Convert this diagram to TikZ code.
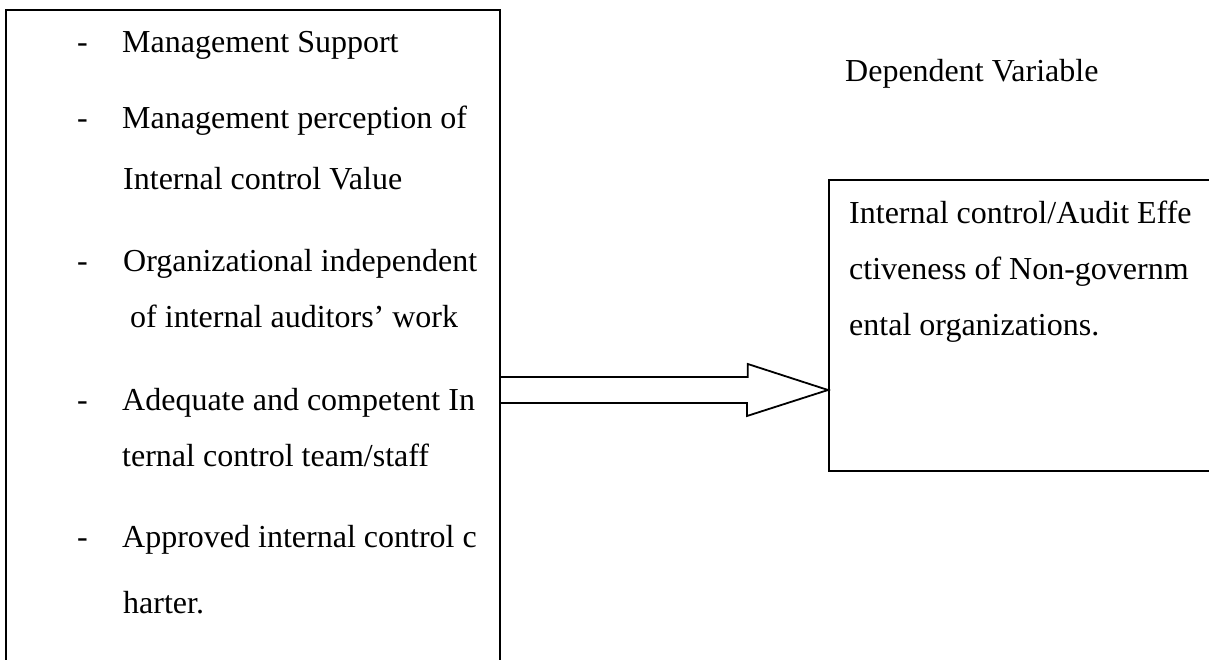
\documentclass[tikz,border=0pt]{standalone}
\usepackage{fontspec}
\setmainfont{Liberation Serif}
\usepackage{tikz}

\tikzset{
  box/.style={draw, line width=1.8pt, inner sep=0pt, anchor=north west},
  txt/.style={anchor=base west, inner sep=0pt, font=\fontsize{32}{38}\selectfont},
  blockarrow/.style={draw, line width=1.8pt, line join=miter}
}

\begin{document}
\begin{tikzpicture}[x=1pt,y=-1pt]
\useasboundingbox (0,0) rectangle (1209,660);
\clip (0,0) rectangle (1209,660);
% boxes
\node[box, minimum width=494pt, minimum height=700pt] (ivbox) at (5,9) {};
\node[box, minimum width=450pt, minimum height=291pt] (dvbox) at (828,179) {};
% left list
\node[txt] (d1) at (77,53) {-};
\node[txt] (ms) at (122,53) {Management Support};
\node[txt] (d2) at (77,129) {-};
\node[txt] (mp1) at (122,129) {Management perception of};
\node[txt] (mp2) at (123,190) {Internal control Value};
\node[txt] (d3) at (77,272) {-};
\node[txt] (oi1) at (123,272) {Organizational independent};
\node[txt] (oi2) at (130,327) {of internal auditors’ work};
\node[txt] (d4) at (77,410) {-};
\node[txt] (ac1) at (122,410) {Adequate and competent In};
\node[txt] (ac2) at (122,466) {ternal control team/staff};
\node[txt] (d5) at (77,547) {-};
\node[txt] (ap1) at (122,547) {Approved internal control c};
\node[txt] (ap2) at (123,613) {harter.};
% right side
\node[txt] (dvlabel) at (845,82) {Dependent Variable};
\node[txt] (ie1) at (849,224) {Internal control/Audit Effe};
\node[txt] (ie2) at (849,279) {ctiveness of Non-governm};
\node[txt] (ie3) at (849,335) {ental organizations.};
% block arrow
\coordinate (tail) at (ivbox.east |- 0,390);
\coordinate (tip) at (dvbox.west |- 0,390);
\draw[blockarrow] (tail) ++(0,-13) -- ++(247,0) -- ++(0,-13) -- (tip) -- ++(-81,26) -- ++(0,-13) -- ++(-247,0);
\end{tikzpicture}
\end{document}
